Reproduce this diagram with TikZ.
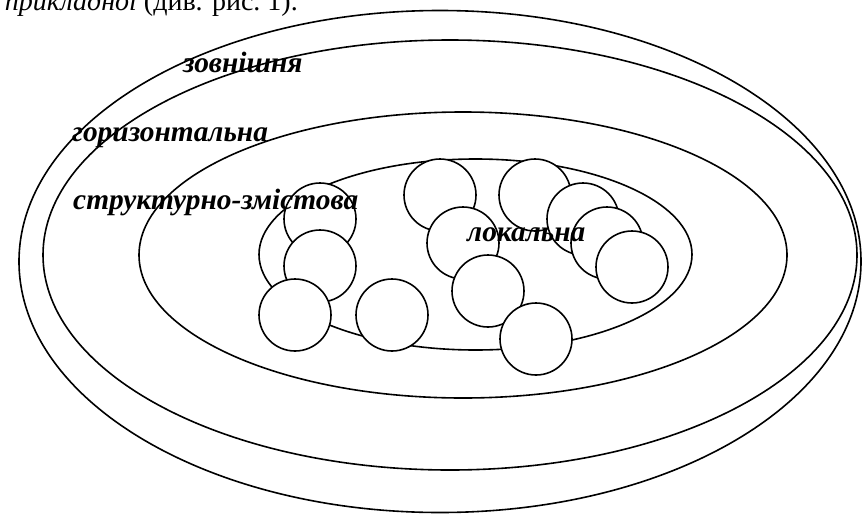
\documentclass[tikz,border=0pt]{standalone}
\usepackage{fontspec}
\setmainfont{Liberation Serif}
\usepackage{tikz}
\usetikzlibrary{%
	shapes.geometric,%
}
\tikzset{
	nodes={align=center},%
	ring/.style={%
			draw,%
			ellipse,%
			line width=1.6pt,%
			inner sep=0},%
	cell/.style={%
			draw,%
			circle,%
			fill=white,%
			line width=1.6pt,%
			minimum size=72pt,%
			inner sep=0},%
	levelname/.style={%
			font={\fontsize{29.4}{32}\selectfont\bfseries\itshape},%
			inner sep=0,%
			anchor=base west},%
	pagetext/.style={%
			font={\fontsize{28}{30}\selectfont},%
			inner sep=0,%
			anchor=base east},%
}

\begin{document}
\begin{tikzpicture}[x=1pt, y=-1pt]%
	\useasboundingbox (0,0) rectangle (866,514);

	\node[pagetext] (cap) at (298,10) {{\itshape прикладної} (див. рис.~1).};

	% levels, from the outside in
	\node[ring, minimum width=842pt, minimum height=502pt] (ext) at (440,261.5) {};
	\node[ring, minimum width=814pt, minimum height=430pt] (horiz) at (450,255) {};
	\node[ring, minimum width=648pt, minimum height=286pt] (struct) at (463,255) {};
	\node[ring, minimum width=433pt, minimum height=191pt] (local) at (475.5,254.5) {};

	\node[cell] (c1) at (320,219) {};
	\node[cell] (c2) at (320,266) {};
	\node[cell] (c3) at (295,315) {};
	\node[cell] (c4) at (392,315) {};
	\node[cell] (c5) at (440,195) {};
	\node[cell] (c6) at (463,243) {};
	\node[cell] (c7) at (488,291) {};
	\node[cell] (c8) at (536,339) {};
	\node[cell] (c9) at (535,195) {};
	\node[cell] (c10) at (583,219) {};
	\node[cell] (c11) at (607,243) {};
	\node[cell] (c12) at (632,267) {};

	\node[levelname] (extname) at (183,72) {зовнішня};
	\node[levelname] (horizname) at (72,141) {горизонтальна};
	\node[levelname] (structname) at (73,209) {структурно-змістова};
	\node[levelname] (localname) at (467,241) {локальна};
\end{tikzpicture}
\end{document}
